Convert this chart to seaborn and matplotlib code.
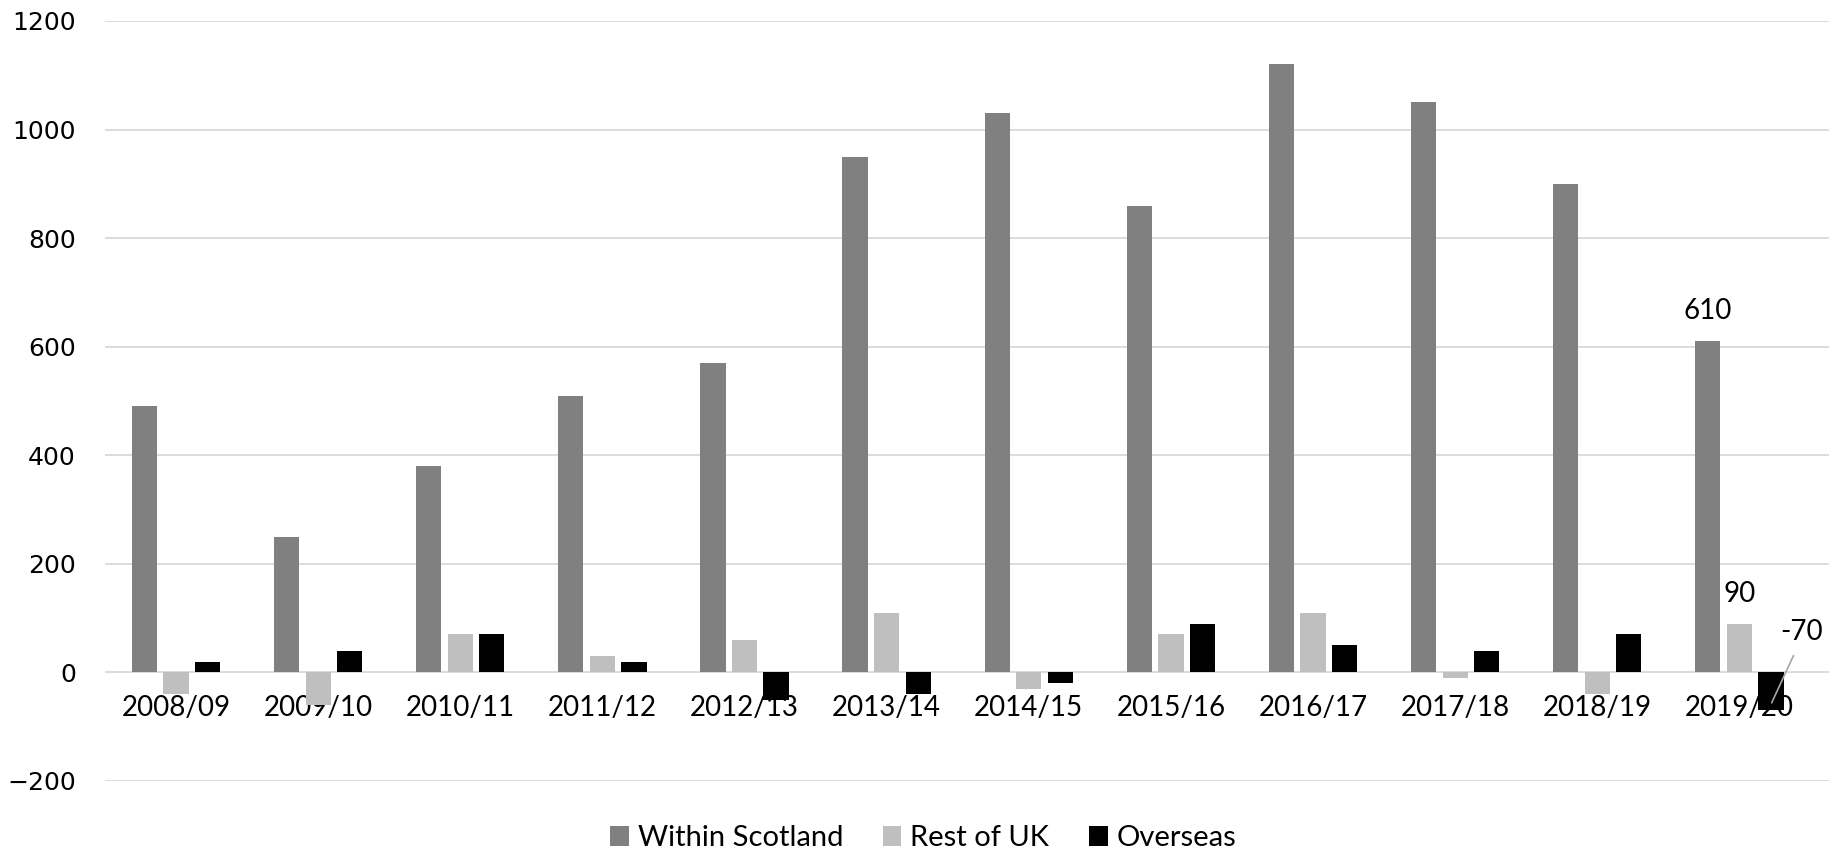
import matplotlib
matplotlib.use("Agg")
import matplotlib.pyplot as plt
from matplotlib.patches import Patch
import seaborn as sns
import pandas as pd

years = ["2008/09", "2009/10", "2010/11", "2011/12", "2012/13", "2013/14",
         "2014/15", "2015/16", "2016/17", "2017/18", "2018/19", "2019/20"]
within_scotland = [490, 250, 380, 510, 570, 950, 1030, 860, 1120, 1050, 900, 610]
rest_of_uk = [-40, -60, 70, 30, 60, 110, -30, 70, 110, -10, -40, 90]
overseas = [20, 40, 70, 20, -50, -40, -20, 90, 50, 40, 70, -70]

series_names = ["Within Scotland", "Rest of UK", "Overseas"]
series_colors = ["#808080", "#bfbfbf", "#000000"]

rows = []
for name, vals in zip(series_names, [within_scotland, rest_of_uk, overseas]):
    for y, v in zip(years, vals):
        rows.append({"year": y, "source": name, "value": v})
df = pd.DataFrame(rows)

sns.set_theme(style="white")
label_font = ["Lato", "DejaVu Sans"]
plt.rcParams["font.family"] = label_font
plt.rcParams["text.color"] = "black"

fig = plt.figure(figsize=(18.35, 8.5), dpi=100)
ax = fig.add_axes([0.0572, 0.0812, 0.9395, 0.8941])

group_width = 0.666
sns.barplot(data=df, x="year", y="value", hue="source", order=years,
            hue_order=series_names, palette=series_colors, width=group_width,
            gap=0.2, saturation=1, errorbar=None, legend=False, ax=ax,
            edgecolor="none", linewidth=0)

ax.set_ylim(-200, 1200)
ax.set_xlim(-0.5, len(years) - 0.37)
ax.set_yticks(range(-200, 1201, 200))
ax.yaxis.grid(True, color="#d9d9d9", linewidth=1.3)
ax.set_axisbelow(True)
for s in ax.spines.values():
    s.set_visible(False)
ax.spines["bottom"].set_position(("data", 0))
ax.set_xlabel("")
ax.set_ylabel("")
ax.tick_params(axis="x", length=0, pad=16, labelsize=20, labelcolor="black")
ax.tick_params(axis="y", length=0, pad=21, labelsize=18, labelcolor="black")
for t in ax.get_yticklabels():
    t.set_fontfamily("DejaVu Sans")

# value labels on the last year's bars
step = group_width / 3
last = len(years) - 1
ax.annotate(f"{within_scotland[last]}", xy=(last - step, within_scotland[last]),
            xytext=(0, 21.6), textcoords="offset points", ha="center",
            va="center", fontsize=20)
ax.annotate(f"{rest_of_uk[last]}", xy=(last, rest_of_uk[last]),
            xytext=(0, 21.6), textcoords="offset points", ha="center",
            va="center", fontsize=20)
ax.annotate(f"{overseas[last]}", xy=(last + step + 0.005, overseas[last] * 0.8),
            xytext=(last + 0.44, 75), textcoords="data", ha="center",
            va="center", fontsize=20,
            arrowprops=dict(arrowstyle="-", color="#a6a6a6", linewidth=1.2,
                            relpos=(0.42, 0), shrinkA=6, shrinkB=0))

handles = [Patch(facecolor=c, edgecolor="none") for c in series_colors]
fig.legend(handles, series_names, loc="lower center", ncol=3,
           bbox_to_anchor=(0.503, -0.032), frameon=False, fontsize=21,
           handlelength=0.65, handleheight=0.7, handletextpad=0.3,
           columnspacing=1.35)

fig.savefig("out.png", dpi=100)
